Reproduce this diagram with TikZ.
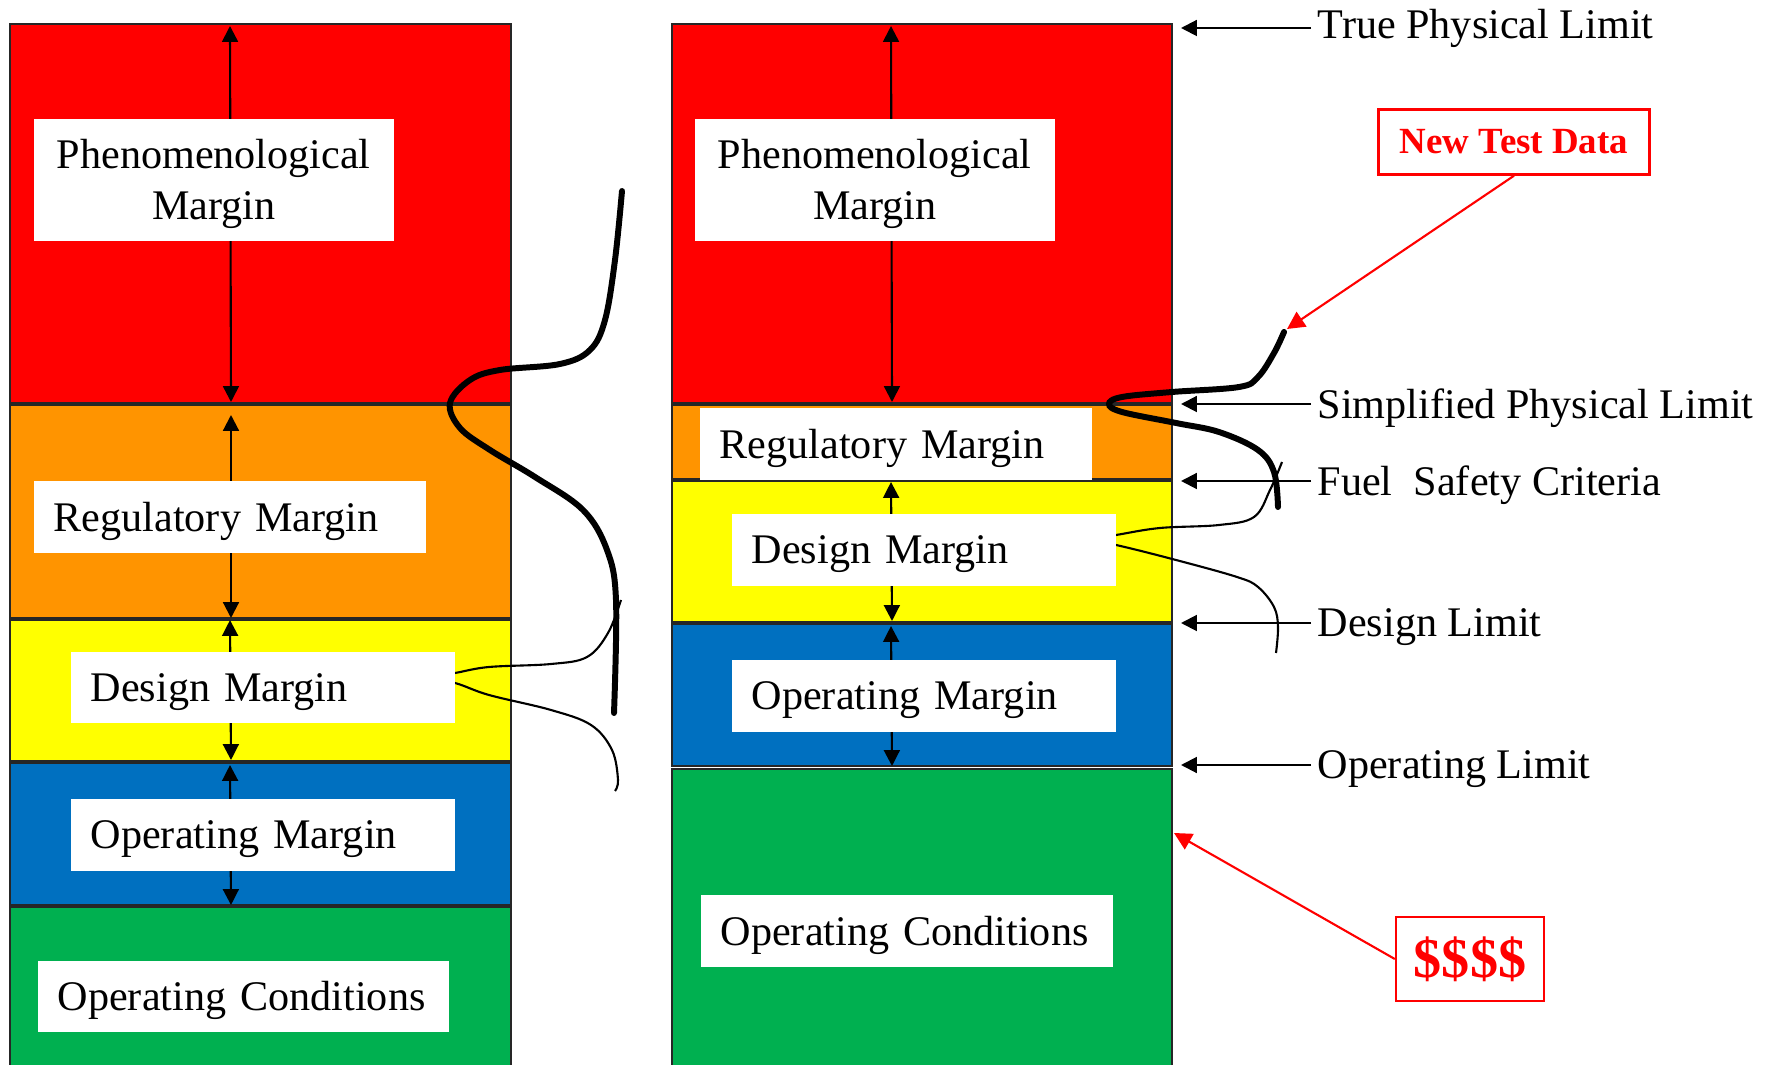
\documentclass[tikz,border=0pt]{standalone}
\usepackage{fontspec}
\setmainfont{Liberation Serif}
\usetikzlibrary{arrows.meta}

\definecolor{mred}{HTML}{FF0000}
\definecolor{morange}{HTML}{FF9400}
\definecolor{myellow}{HTML}{FFFF00}
\definecolor{mblue}{HTML}{0070C0}
\definecolor{mgreen}{HTML}{00B050}

\tikzset{
  band/.style={draw=black!85, line width=0.5pt},
  lbl/.style={fill=white, inner xsep=2mm, inner ysep=0pt, anchor=north west,
    align=left, text depth=0pt, font=\fontsize{12}{14.5}\selectfont},
  dimarrow/.style={{Triangle[length=4.5pt,width=4.5pt]}-{Triangle[length=4.5pt,width=4.5pt]}, line width=0.6pt},
  limarrow/.style={-{Triangle[length=4.5pt,width=4.5pt]}, line width=0.6pt},
  limtxt/.style={anchor=west, inner sep=0.6mm, text depth=0pt, font=\fontsize{12}{14.5}\selectfont},
  redbox/.style={draw=mred, line width=0.7pt, text=mred},
  redarrow/.style={mred, line width=0.6pt, -{Triangle[length=5pt,width=5pt]}},
  thickcurve/.style={line width=1.7pt, line cap=round},
  thincurve/.style={line width=0.6pt}
}

\begin{document}
\begin{tikzpicture}[x=0.1mm, y=-0.1mm]
    \useasboundingbox (0,0) rectangle (1777,1065);
    \clip (0,0) rectangle (1777,1065);

    % left column
    \draw[band, fill=mred] (10,24) rectangle (511,403);
    \draw[band, fill=morange] (10,405) rectangle (511,618);
    \draw[band, fill=myellow] (10,620) rectangle (511,761);
    \draw[band, fill=mblue] (10,763) rectangle (511,905);
    \draw[band, fill=mgreen] (10,907) rectangle (511,1090);

    % right column
    \draw[band, fill=mred] (672,24) rectangle (1172,403);
    \draw[band, fill=morange] (672,405) rectangle (1172,479);
    \draw[band, fill=myellow] (672,481) rectangle (1172,622);
    \draw[band, fill=mblue] (672,624) rectangle (1172,766);
    \draw[band, fill=mgreen] (672,769) rectangle (1172,1090);

    \draw[dimarrow] (230,26) -- (231,402);
    \draw[dimarrow] (231,415) -- (231,618);
    \draw[dimarrow] (230,620) -- (231,760);
    \draw[dimarrow] (230,765) -- (231,905);
    \draw[dimarrow] (891,26) -- (892,402);
    \draw[dimarrow] (891,482) -- (892,621);
    \draw[dimarrow] (891,626) -- (892,766);

    % distributions
    \draw[thickcurve] plot[smooth, tension=0.6] coordinates {(622,191) (615,260) (605,320) (590,350) (560,364) (500,370) (470,380) (450,403) (460,428) (490,450) (535,477) (583,510) (607,550) (616,600) (614,713)};
    \draw[thincurve] plot[smooth, tension=0.6] coordinates {(621,600) (608,633) (587,657) (551,664) (489,667) (455,673) (425,678) (455,683) (489,695) (551,710) (591,725) (612,750) (618,780) (615,791)};
    \draw[thickcurve] plot[smooth, tension=0.6] coordinates {(1284,332) (1274,353) (1258,377) (1239,387) (1172,392) (1122,397) (1109,404) (1122,412) (1176,423) (1219,432) (1258,450) (1274,472) (1278,507)};
    \draw[thincurve] plot[smooth, tension=0.6] coordinates {(1282,462) (1270,490) (1254,517) (1219,525) (1160,528) (1116,535) (1085,540) (1116,545) (1176,560) (1237,577) (1258,587) (1274,607) (1278,627) (1276,653)};

    \node[lbl, align=center, text depth=14.5pt, text width=32mm, minimum height=12.2mm] (phenL) at (33,118) {Phenomenological\\Margin};
    \node[lbl, text width=35.2mm, minimum height=7.2mm] (regL) at (33,480) {Regulatory Margin};
    \node[lbl, text width=34.4mm, minimum height=7.1mm] (desL) at (70,651) {Design Margin};
    \node[lbl, text width=34.4mm, minimum height=7.2mm] (opmL) at (70,798) {Operating Margin};
    \node[lbl, text width=37.1mm, minimum height=7.1mm] (opcL) at (37,960) {Operating Conditions};

    \node[lbl, align=center, text depth=14.5pt, text width=32mm, minimum height=12.2mm] (phenR) at (694,118) {Phenomenological\\Margin};
    \node[lbl, text width=35.2mm, minimum height=7.2mm] (regR) at (699,407) {Regulatory Margin};
    \node[lbl, text width=34.4mm, minimum height=7.2mm] (desR) at (731,513) {Design Margin};
    \node[lbl, text width=34.4mm, minimum height=7.2mm] (opmR) at (731,659) {Operating Margin};
    \node[lbl, text width=37.2mm, minimum height=7.2mm] (opcR) at (700,894) {Operating Conditions};

    % limits
    \node[limtxt, text depth=] (tpl) at (1311,28) {True Physical Limit};
    \node[limtxt] (spl) at (1311,404) {Simplified Physical Limit};
    \node[limtxt] (fsc) at (1311,481) {Fuel~~Safety Criteria};
    \node[limtxt] (dsl) at (1311,623) {Design Limit};
    \node[limtxt] (opl) at (1311,765) {Operating Limit};
    \coordinate (tplend) at (1181,28);
    \coordinate (splend) at (1181,404);
    \coordinate (fscend) at (1181,481);
    \coordinate (dslend) at (1181,623);
    \coordinate (oplend) at (1181,765);
    \draw[limarrow] (tpl.west) -- (tplend);
    \draw[limarrow] (spl.west) -- (splend);
    \draw[limarrow] (fsc.west) -- (fscend);
    \draw[limarrow] (dsl.west) -- (dslend);
    \draw[limarrow] (opl.west) -- (oplend);

    \node[redbox, font=\bfseries\fontsize{10.5}{12}\selectfont, minimum width=27.1mm, minimum height=6.5mm] (ntd) at (1514,142) {New Test Data};
    \node[redbox, font=\bfseries\fontsize{16}{18}\selectfont, minimum width=14.8mm, minimum height=8.4mm] (dol) at (1470,959) {\$\$\$\$};
    \coordinate (ntdtip) at (1287,329);
    \coordinate (doltip) at (1174,833);
    \draw[redarrow] (ntd.south) -- (ntdtip);
    \draw[redarrow] (dol.west) -- (doltip);
\end{tikzpicture}
\end{document}
